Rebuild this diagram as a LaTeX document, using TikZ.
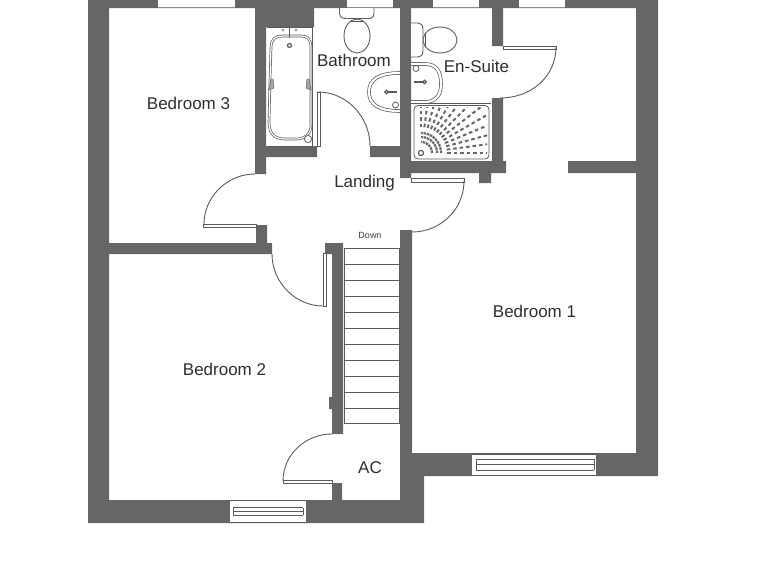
\documentclass[tikz,border=0pt]{standalone}
\usepackage{fontspec}
\setmainfont{Liberation Sans}
\definecolor{wallc}{HTML}{666666}
\definecolor{linec}{HTML}{5A5A5A}
\tikzset{
  wall/.style={fill=wallc,draw=none},
  gap/.style={fill=white,draw=none},
  thin line/.style={draw=linec,line width=0.8pt},
  fixture/.style={draw=linec,line width=0.9pt,fill=white},
  dbl/.style={draw=linec,line width=0.7pt,double=white,double distance=2.2pt},
  dblbath/.style={draw=linec,line width=0.7pt,double=white,double distance=1.2pt},
  leaf/.style={draw=linec,line width=0.7pt,fill=white},
  swing/.style={draw=linec,line width=0.9pt},
  room/.style={font=\fontsize{17}{19}\selectfont,text=black!82,inner sep=0pt},
  spray/.style={draw=wallc,line width=2pt,dash pattern=on 3.5pt off 3pt}
}
\begin{document}
\begin{tikzpicture}[x=1pt,y=-1pt]
\useasboundingbox (0,0) rectangle (768,576);
% walls
\path[wall]
  (88,0) rectangle (109,523)
  (88,0) rectangle (658,8)
  (636,0) rectangle (658,476)
  (88,500) rectangle (424,523)
  (400,230) rectangle (412,500)
  (412,453) rectangle (472,476)
  (412,453) rectangle (424,523)
  (596,453) rectangle (658,476)
  (255,0) rectangle (266,174)
  (255,8) rectangle (314,27)
  (266,146) rectangle (317,157)
  (370,146) rectangle (400,157)
  (400,0) rectangle (411,178)
  (411,161) rectangle (506,173)
  (479,173) rectangle (491,183)
  (492,0) rectangle (503,46)
  (492,98) rectangle (503,161)
  (568,161) rectangle (636,173)
  (256,225) rectangle (267,243)
  (109,243) rectangle (272,254)
  (325,243) rectangle (343,254)
  (332,243) rectangle (343,434)
  (329,397) rectangle (332,409)
  (332,483) rectangle (342,500);
% windows top
\foreach \a/\b in {158/235,347/393,433/479,519/565}{
  \path[gap] (\a,0) rectangle (\b,7);
  \draw[thin line,draw=linec!70] (\a,7.5) -- (\b,7.5);
}
% bottom window
\path[gap] (230,500) rectangle (306,523);
\draw[thin line] (230,500.5) -- (306,500.5) (230,522.5) -- (306,522.5);
\draw[thin line] (233,507.5) -- (303,507.5) (233,515) -- (303,515) (233,511.5) -- (303,511.5);
\draw[thin line] (233,507.5) -- (233,515) (303,507.5) -- (303,515);
% large window
\path[gap] (472,453) rectangle (596,476);
\draw[thin line,line width=1.1pt] (472,454) -- (596,454);
\draw[thin line] (472,475.5) -- (596,475.5);
\draw[thin line] (476,459) -- (594,459) (476,470) -- (594,470);
\draw[thin line] (476,464.5) -- (594,464.5);
\draw[thin line] (476,459) -- (476,470) (594,459) -- (594,470);
% stairs
\foreach \y in {248,264,280,296,312,328,344,360,376,392,408,423}{
  \draw[thin line] (344,\y) -- (400,\y);
}
\draw[thin line] (344,248) -- (344,423) (399.5,248) -- (399.5,423);
% door leaves and swings
\path[leaf] (203,224) rectangle (256,227);
\draw[swing] (204,224) .. controls (204,197) and (227,174) .. (255,174);
\path[leaf] (323,253) rectangle (326,306);
\draw[swing] (272,254) .. controls (272,282) and (295,306) .. (323,306);
\path[leaf] (317,92) rectangle (320,146);
\draw[swing] (318,92) .. controls (347,92) and (370,117) .. (370,146);
\path[leaf] (503,46) rectangle (556,49);
\draw[swing] (556,47) .. controls (556,76) and (532,98) .. (500,98);
\path[leaf] (411,178) rectangle (464,182);
\draw[swing] (464,181) .. controls (464,209) and (441,232) .. (412,232);
\path[leaf] (283,480) rectangle (332,483);
\draw[swing] (332,434) .. controls (305,434) and (283,455) .. (283,481);
% bath
\draw[thin line] (266.5,27) -- (312.5,27) -- (312.5,146) -- (266.5,146);
\draw[dblbath] (271,48) .. controls (271,38) and (276,36) .. (283,36) -- (300,36)
  .. controls (307,36) and (311,38) .. (311,48) -- (311,125)
  .. controls (311,134) and (305,139) .. (296,139) -- (285,139)
  .. controls (275,139) and (269,134) .. (269,122) -- (270,80) -- cycle;
\path[fill=linec!55,draw=linec] (268.5,90) -- (271,79) -- (273,79) -- (274,88) -- cycle
  (306,88) -- (307,79) -- (309,79) -- (311,90) -- cycle;
\draw[thin line,fill=white] (308,139) circle (3.6);
\draw[thin line,line width=1.2pt] (289.5,45.5) circle (2);
\draw[thin line] (289.5,28) -- (289.5,38);
\fill[linec!55] (283,30) circle (1.7) (296,30) circle (1.7);
% bathroom toilet
\draw[fixture] (339.5,8) -- (339.5,13) .. controls (340,18) and (343,18.5) .. (347,18.5) -- (367,18.5)
  .. controls (371,18.5) and (374,18) .. (374,13) -- (374,8);
\draw[fixture] (357,36) ellipse (13 and 17);
\draw[thin line,line width=1.2pt] (351,21.5) -- (363,21.5);
% bathroom basin
\draw[dbl] (400,73) .. controls (378,73) and (369,80) .. (369,92)
  .. controls (369,104) and (378,111) .. (400,111);
\draw[thin line,fill=white] (395.5,105) circle (3);
\draw[thin line,line width=1.2pt] (386.5,92) circle (1.8);
\draw[thin line,line width=1.2pt] (388,92) -- (397,92);
% en-suite toilet
\draw[fixture] (411,23) -- (418,23) .. controls (421,23) and (423,25) .. (423,29)
  -- (423,51) .. controls (423,55) and (421,57) .. (418,57) -- (411,57);
\draw[fixture] (440,40) ellipse (17 and 13);
\draw[thin line,line width=1.2pt] (425.5,34) -- (425.5,46);
% en-suite basin
\draw[dbl] (411,64) -- (425,64) .. controls (437,64) and (441,72) .. (441,84)
  .. controls (441,96) and (435,102) .. (425,102) -- (411,102);
\draw[thin line,fill=white] (416,68.5) circle (3);
\draw[thin line,line width=1.2pt] (424.5,82) circle (1.8);
\draw[thin line,line width=1.2pt] (414,82) -- (423,82);
% shower
\draw[thin line] (411,103.5) -- (491,103.5);
\draw[fixture,rounded corners=4pt,line width=0.8pt] (414,105.5) rectangle (489,159);
\begin{scope}
\clip (416,107) rectangle (487,157);
\foreach \t in {0,7.5,...,90}{
  \draw[spray] ({421+26*cos(\t)},{153-26*sin(\t)}) -- ({421+95*cos(\t)},{153-95*sin(\t)});
}
\foreach \r in {11,16,20}{
  \draw[draw=wallc,line width=2.2pt,dash pattern=on 2.5pt off 0.8pt]
    plot[domain=0:90,samples=25] ({421+\r*cos(\x)},{153-\r*sin(\x)});
}
\end{scope}
\draw[thin line,line width=1.1pt,fill=white] (421,153) circle (2.6);
% labels
\node[room] (bed3) at (188.5,103) {Bedroom 3};
\node[room] (bath) at (354,60) {Bathroom};
\node[room] (ensuite) at (476.5,66) {En-Suite};
\node[room] (landing) at (364.5,183) {Landing};
\node[room] (bed1) at (534.5,311) {Bedroom 1};
\node[room] (bed2) at (224.5,369) {Bedroom 2};
\node[room] (ac) at (370,467.5) {AC};
\node[font=\fontsize{9}{10}\selectfont,text=black!75,inner sep=0pt] (down) at (370,235.5) {Down};
\end{tikzpicture}
\end{document}
